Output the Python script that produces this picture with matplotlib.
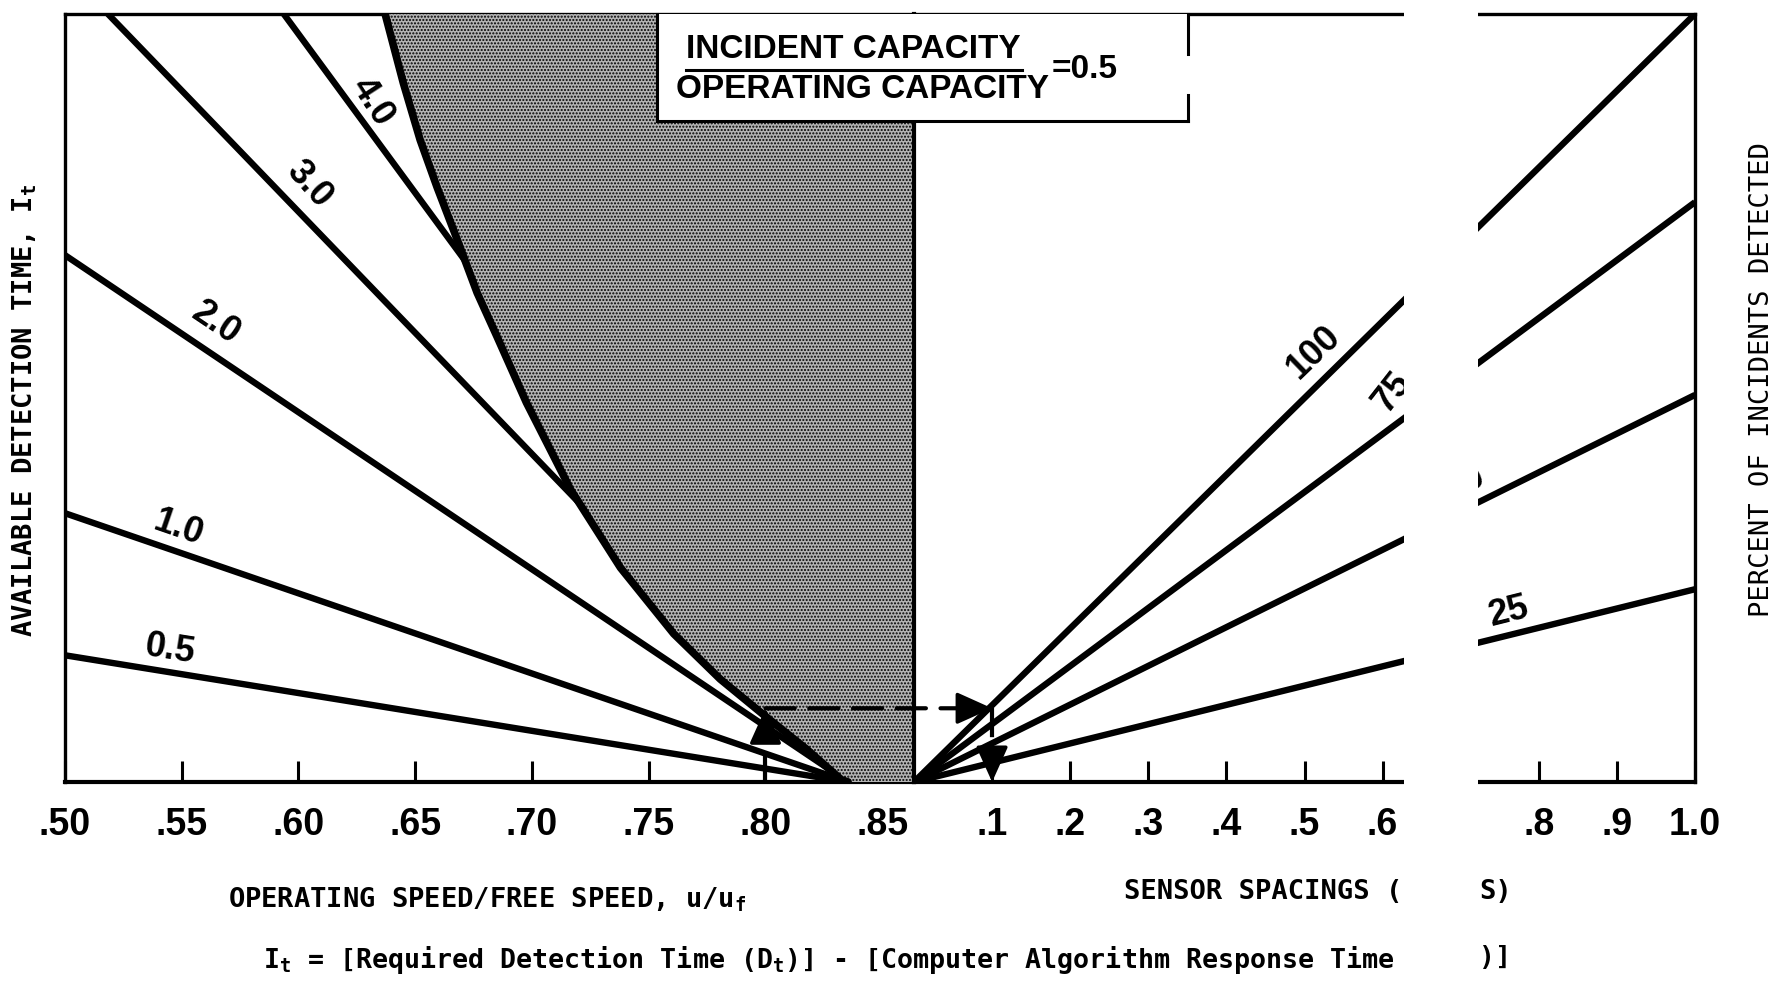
import matplotlib
matplotlib.use('Agg')
import matplotlib.pyplot as plt
from matplotlib.patches import Rectangle, ConnectionPatch
from matplotlib.lines import Line2D
from matplotlib.transforms import Affine2D

# ---------------- data ----------------
speed_ticks = [0.50, 0.55, 0.60, 0.65, 0.70, 0.75, 0.80, 0.85]
speed_ticklabels = ['.50', '.55', '.60', '.65', '.70', '.75', '.80', '.85']
spacing_ticks = [0.1, 0.2, 0.3, 0.4, 0.5, 0.6, 0.7, 0.8, 0.9, 1.0]
spacing_ticklabels = ['.1', '.2', '.3', '.4', '.5', '.6', '.7', '.8', '.9', '1.0']

# capacity-ratio lines (left panel): start point and common end point
ratio_labels = ['0.5', '1.0', '2.0', '3.0', '4.0']
ratio_x_start = [0.50, 0.50, 0.50, 0.5184, 0.5937]
ratio_y_start = [0.165, 0.350, 0.686, 1.0, 1.0]
ratio_x_end = 0.8354
ratio_y_end = 0.0

# envelope bounding the shaded (infeasible) region
envelope_x = [0.6371, 0.6449, 0.6521, 0.6594, 0.6680, 0.6765, 0.6850, 0.6976,
              0.7165, 0.7379, 0.7607, 0.7806, 0.7990, 0.8175, 0.8325, 0.8354]
envelope_y = [1.0, 0.910, 0.836, 0.774, 0.706, 0.637, 0.580, 0.494,
              0.381, 0.279, 0.193, 0.134, 0.088, 0.043, 0.003, 0.0]
shade_limit = 0.8636

# percent-of-incidents-detected lines (right panel)
pct_labels = ['100', '75', '50', '25']
pct_x_end = 1.0
pct_y_end = [1.0, 0.755, 0.504, 0.251]

# worked example (dashed arrows)
example_speed = 0.80
example_time = 0.096
example_spacing = 0.1

# ---------------- figure ----------------
W, H = 1778, 991
fig = plt.figure(figsize=(W / 100, H / 100), dpi=100)
fig.patch.set_facecolor('white')
PX = Affine2D().scale(1 / W, -1 / H).translate(0, 1) + fig.transFigure

SANS = ['Liberation Sans', 'DejaVu Sans']
MONO = ['DejaVu Sans Mono', 'DejaVu Sans']

plt.rcParams['hatch.color'] = 'black'
plt.rcParams['hatch.linewidth'] = 1.0
plt.rcParams['mathtext.fontset'] = 'custom'
plt.rcParams['mathtext.rm'] = 'DejaVu Sans Mono'

top_px, bot_px = 14, 782
x0_px, xm_px, x1_px = 65, 914, 1695
ax1 = fig.add_axes([x0_px / W, 1 - bot_px / H, (xm_px - x0_px) / W, (bot_px - top_px) / H])
ax2 = fig.add_axes([xm_px / W, 1 - bot_px / H, (x1_px - xm_px) / W, (bot_px - top_px) / H])

ax1.set_xlim(0.50, shade_limit)
ax2.set_xlim(0.0, 1.0)
for ax in (ax1, ax2):
    ax.set_ylim(0, 1)
    ax.set_yticks([])
    ax.patch.set_alpha(0)
    ax.tick_params(axis='x', direction='in', length=15, width=2.2, pad=18,
                   colors='black')
    for s in ax.spines.values():
        s.set_linewidth(2.4)
    ax.spines['bottom'].set_linewidth(3.0)

ax2.spines['left'].set_visible(False)
ax1.spines['right'].set_linewidth(3.0)
ax1.spines['right'].set_zorder(6)

ax1.set_xticks(speed_ticks)
ax1.set_xticklabels(speed_ticklabels, fontsize=27, family=SANS, weight='bold')
ax2.set_xticks(spacing_ticks)
ax2.set_xticklabels(spacing_ticklabels, fontsize=27, family=SANS, weight='bold')

# ratio lines
for xs, ys in zip(ratio_x_start, ratio_y_start):
    ax1.plot([xs, ratio_x_end], [ys, ratio_y_end], color='black', lw=4.6,
             solid_capstyle='butt', zorder=2)

# shaded region
ax1.fill(list(envelope_x) + [shade_limit, shade_limit],
         list(envelope_y) + [0.0, 1.0],
         facecolor='#b4b4b4', edgecolor='black', hatch='.....', lw=0, zorder=3)
ax1.plot(envelope_x, envelope_y, color='black', lw=5.5, zorder=4,
         solid_capstyle='round', solid_joinstyle='round')

# ratio labels
ratio_lab_pos = [(0.5451, 0.172, -9), (0.5485, 0.330, -19), (0.5646, 0.598, -34),
                 (0.6044, 0.778, -48), (0.6316, 0.885, -57)]
for lab, (x, y, r) in zip(ratio_labels, ratio_lab_pos):
    ax1.text(x, y, lab, fontsize=26, family=SANS, weight='bold', rotation=r,
             rotation_mode='anchor', ha='center', va='center', zorder=5)

# percent lines
for yv in pct_y_end:
    ax2.plot([0.0, pct_x_end], [0.0, yv], color='black', lw=4.6,
             solid_capstyle='butt', zorder=2)

pct_lab_pos = [(0.512, 0.560, 44), (0.612, 0.507, 52), (0.706, 0.388, 30), (0.762, 0.222, 14)]
for lab, (x, y, r) in zip(pct_labels, pct_lab_pos):
    ax2.text(x, y, lab, fontsize=26, family=SANS, weight='bold', rotation=r,
             rotation_mode='anchor', ha='center', va='center', zorder=5)

# worked example dashed path
dash = (0, (7, 3.5))
ax1.plot([example_speed, example_speed], [0.0, example_time - 0.02], color='black',
         lw=3, ls=dash, zorder=6)
con = ConnectionPatch(xyA=(example_speed, example_time), coordsA=ax1.transData,
                      xyB=(example_spacing - 0.03, example_time), coordsB=ax2.transData,
                      color='black', lw=3, ls=dash, zorder=6)
fig.add_artist(con)
ax2.plot([example_spacing, example_spacing], [example_time, 0.03], color='black',
         lw=3, ls=dash, zorder=6)
arrow_kw = dict(arrowstyle='-|>,head_length=1.0,head_width=0.45', color='black',
                lw=2.5, shrinkA=0, shrinkB=0, mutation_scale=22)
ax1.annotate('', xy=(example_speed, example_time), xytext=(example_speed, example_time - 0.035),
             arrowprops=arrow_kw, zorder=7)
ax2.annotate('', xy=(example_spacing, example_time), xytext=(example_spacing - 0.04, example_time),
             arrowprops=arrow_kw, zorder=7)
ax2.annotate('', xy=(example_spacing, 0.0), xytext=(example_spacing, 0.05),
             arrowprops=arrow_kw, zorder=7)

# ---------------- capacity box ----------------
fig.add_artist(Rectangle((657, 14), 531, 107, transform=PX, facecolor='white',
                         edgecolor='none', zorder=5))
for xs, ys in [((657, 657), (14, 121)), ((657, 1188), (121, 121)),
               ((1188, 1188), (14, 54)), ((1188, 1188), (95, 121))]:
    fig.add_artist(Line2D(xs, ys, transform=PX, color='black', lw=2.2, zorder=6))
fig.text(853, 50, 'INCIDENT CAPACITY', transform=PX, fontsize=24, family=SANS,
         weight='bold', ha='center', va='center', zorder=7)
fig.add_artist(Line2D((686, 1022), (70, 70), transform=PX, color='black', lw=2.2, zorder=7))
fig.text(862, 90, 'OPERATING CAPACITY', transform=PX, fontsize=24, family=SANS,
         weight='bold', ha='center', va='center', zorder=7)
fig.text(1052, 70, '=0.5', transform=PX, fontsize=24, family=SANS,
         weight='bold', ha='left', va='center', zorder=7)

# ---------------- axis titles ----------------
fig.text(25, 410, r'AVAILABLE DETECTION TIME, I$_\mathregular{t}$', transform=PX,
         fontsize=19.5, family=MONO, weight='bold', rotation=90,
         ha='center', va='center')
fig.text(1762, 380, 'PERCENT OF INCIDENTS DETECTED', transform=PX,
         fontsize=19.5, family=MONO, rotation=90, ha='center', va='center')
fig.text(228, 900, r'OPERATING SPEED/FREE SPEED, u/u$_\mathregular{f}$', transform=PX,
         fontsize=19.5, family=MONO, weight='bold', ha='left', va='center')
fig.text(1402, 892, 'SENSOR SPACINGS (', transform=PX,
         fontsize=19.5, family=MONO, weight='bold', ha='right', va='center')
fig.text(1479, 892, 'S)', transform=PX,
         fontsize=19.5, family=MONO, weight='bold', ha='left', va='center')
fig.text(263, 960, r'I$_\mathregular{t}$ = [Required Detection Time (D$_\mathregular{t}$)] - '
         r'[Computer Algorithm Response Time', transform=PX,
         fontsize=19.2, family=MONO, weight='bold', ha='left', va='center')
fig.text(1479, 958, ')]', transform=PX,
         fontsize=19.2, family=MONO, weight='bold', ha='left', va='center')

# ---------------- broken strip ----------------
fig.add_artist(Rectangle((1404, 0), 74, H, transform=PX, facecolor='white',
                         edgecolor='none', zorder=20))

fig.savefig('out.png', dpi=100, facecolor='white')
